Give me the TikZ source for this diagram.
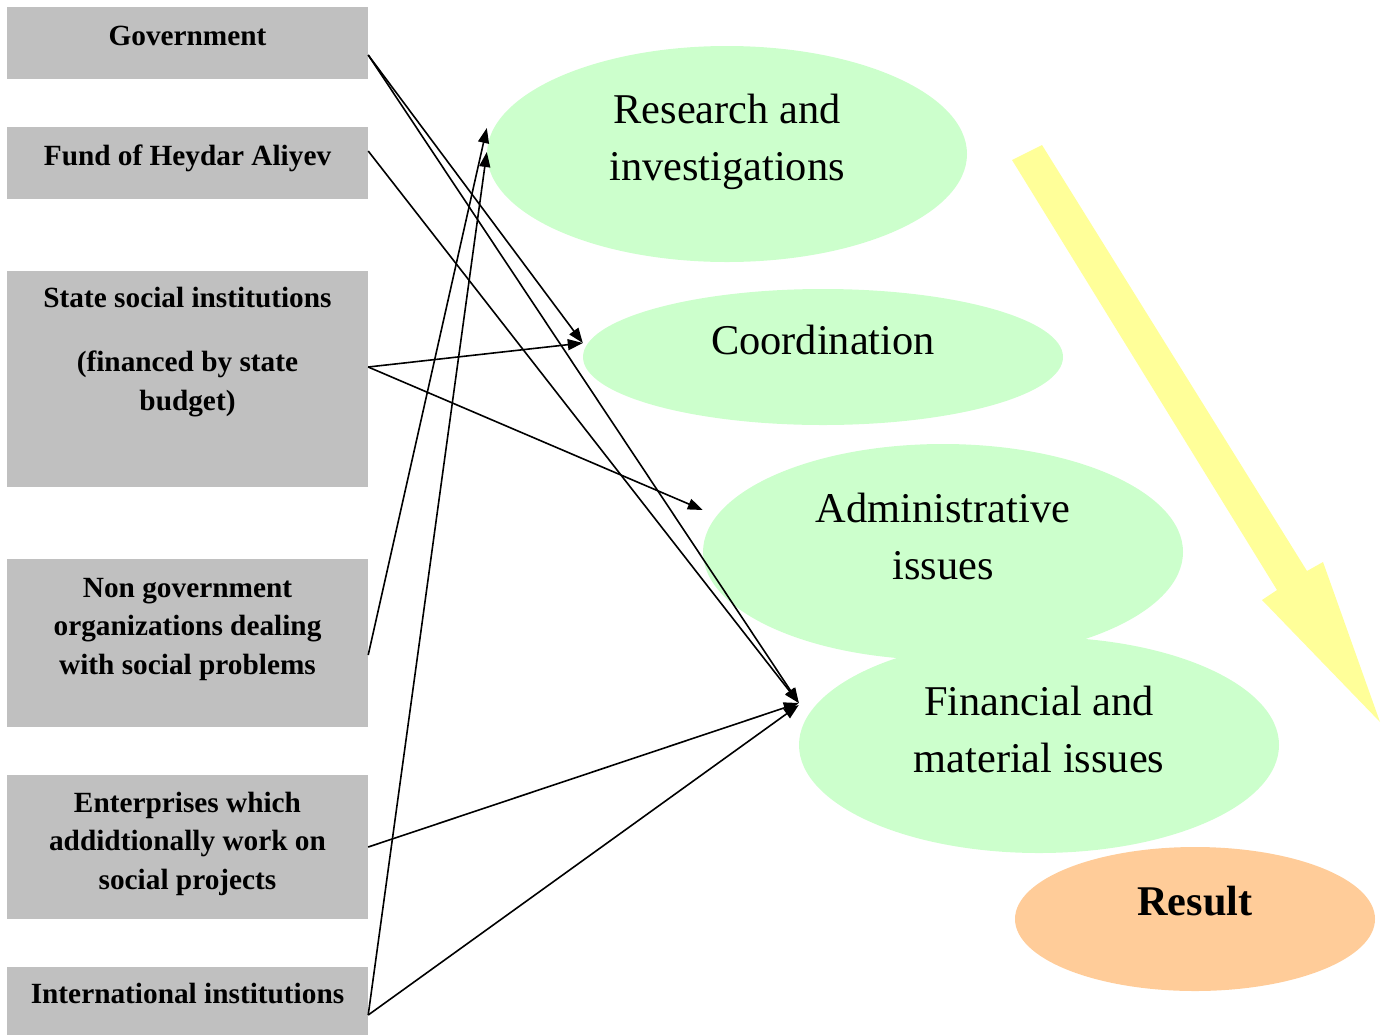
\documentclass[tikz,border=0pt]{standalone}
\usepackage{fontspec}
\setmainfont{Liberation Serif}
\usetikzlibrary{shapes.geometric,arrows.meta}
\definecolor{boxgray}{HTML}{C0C0C0}
\definecolor{ellgreen}{HTML}{CCFFCC}
\definecolor{resorange}{HTML}{FFCC99}
\definecolor{bigyellow}{HTML}{FFFF99}
\newcommand{\ml}[1]{\begin{tabular}[t]{@{}c@{}}#1\end{tabular}}
\begin{document}
\begin{tikzpicture}[x=1pt,y=-1pt,
  srcbox/.style={rectangle,fill=boxgray,draw=none,minimum width=361pt,inner sep=0pt},
  srctext/.style={anchor=base,inner sep=0pt,font=\fontsize{29.3}{38.5}\selectfont\bfseries},
  topic/.style={ellipse,fill=ellgreen,draw=none,minimum width=480pt,minimum height=216pt,inner sep=0pt},
  topictext/.style={anchor=base,inner sep=0pt,font=\fontsize{42.4}{57}\selectfont},
  link/.style={line width=1.6pt,-{Triangle[length=15pt,width=11pt]}}
]
\useasboundingbox (0,0) rectangle (1388,1034);
\clip (0,0) rectangle (1388,1034);

% ellipses
\node[topic] (res) at (727,154) {};
\node[topic,minimum height=136pt] (coord) at (823,357) {};
\node[topic] (adm) at (943,552) {};
\node[topic] (fin) at (1039,745) {};
\node[ellipse,fill=resorange,draw=none,minimum width=360pt,minimum height=144pt,inner sep=0pt] (result) at (1195,919) {};

% source boxes
\node[srcbox,minimum height=72pt] (gov) at (187.5,43) {};
\node[srcbox,minimum height=72pt] (fund) at (187.5,163) {};
\node[srcbox,minimum height=216pt] (state) at (187.5,379) {};
\node[srcbox,minimum height=168pt] (ngo) at (187.5,643) {};
\node[srcbox,minimum height=144pt] (ent) at (187.5,847) {};
\node[srcbox,minimum height=72pt] (intl) at (187.5,1003) {};

% big yellow arrow
\fill[bigyellow] (1012,160) -- (1042,145) -- (1307,571) -- (1323,562) -- (1380,722) -- (1262,600) -- (1277,590) -- cycle;

% texts in boxes
\node[srctext] (govT) at (187.5,45) {Government};
\node[srctext] (fundT) at (187.5,165) {Fund of Heydar Aliyev};
\node[srctext] (stateT) at (187.5,307) {\ml{State social institutions\\[26pt] (financed by state\\ budget)}};
\node[srctext] (ngoT) at (187.5,597) {\ml{Non government\\ organizations dealing\\ with social problems}};
\node[srctext] (entT) at (187.5,812) {\ml{Enterprises which\\ addidtionally work on\\ social projects}};
\node[srctext] (intlT) at (187.5,1003) {International institutions};

% texts in ellipses
\node[topictext] (resT) at (727,123) {\ml{Research and\\ investigations}};
\node[topictext] (coordT) at (823,354) {Coordination};
\node[topictext] (admT) at (943,522) {\ml{Administrative\\ issues}};
\node[topictext] (finT) at (1039,715) {\ml{Financial and\\ material issues}};
\node[topictext,font=\fontsize{42.3}{57}\selectfont\bfseries] (resultT) at (1195,915) {Result};

% connectors
\draw[link] ([yshift=-12pt]gov.east) -- ([yshift=14pt]coord.west);
\draw[link] ([yshift=-12pt]gov.east) -- ([yshift=42pt]fin.west);
\draw[link] ([yshift=12pt]fund.east) -- ([yshift=42pt]fin.west);
\draw[link] ([yshift=12pt]state.east) -- ([yshift=14pt]coord.west);
\draw[link] ([yshift=12pt]state.east) -- ([yshift=42pt]adm.west);
\draw[link] ([yshift=-12pt]ngo.east) -- ([yshift=26pt]res.west);
\draw[link] ([yshift=-12pt]intl.east) -- ([yshift=2pt]res.west);
\draw[link] (ent.east) -- ([yshift=42pt]fin.west);
\draw[link] ([yshift=-12pt]intl.east) -- ([yshift=40pt]fin.west);
\end{tikzpicture}
\end{document}
